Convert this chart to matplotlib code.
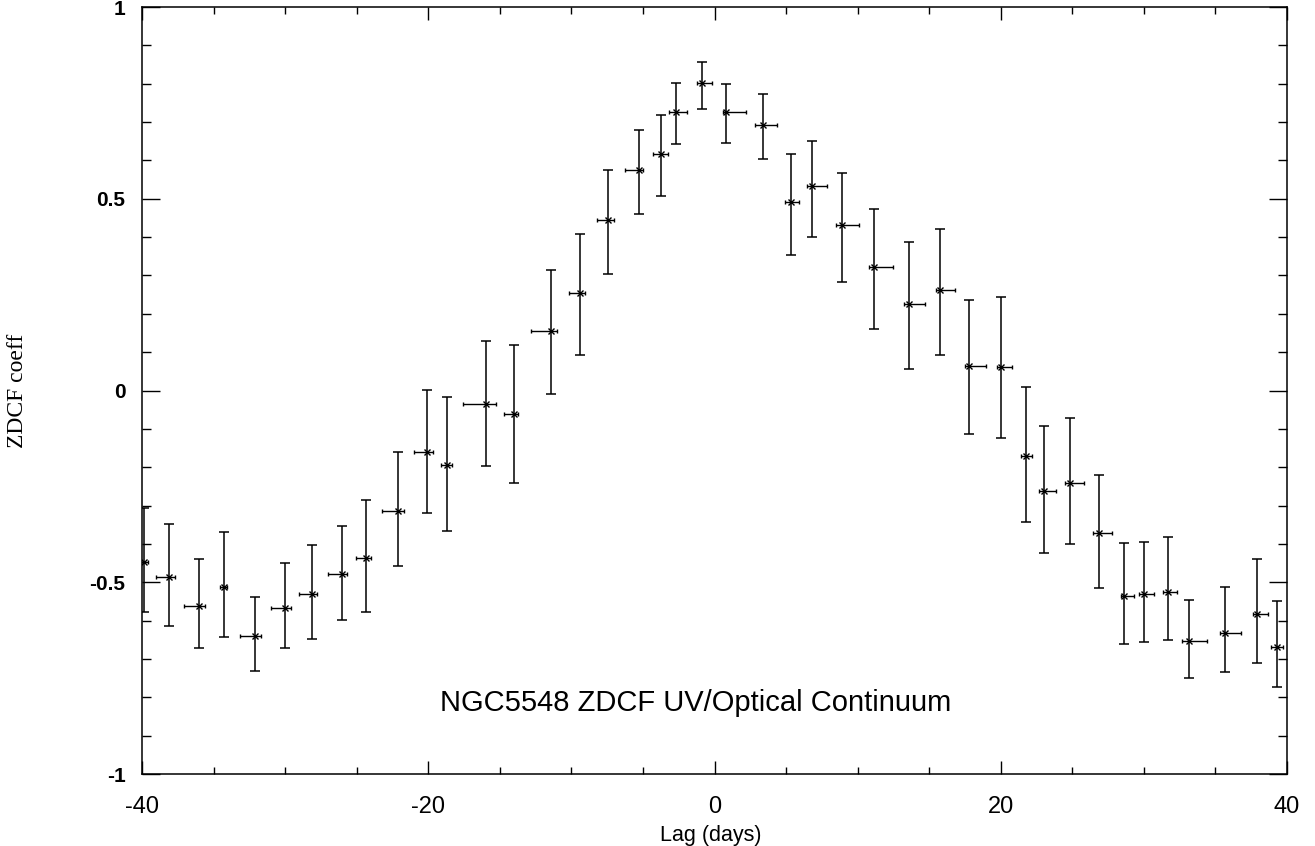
import numpy as np
import matplotlib
matplotlib.use("Agg")
import matplotlib.pyplot as plt
from matplotlib.ticker import MultipleLocator

# ZDCF points: lag (days), coefficient, bar ends
lag = [-39.85, -38.11, -36.01, -34.31, -32.14, -30.05, -28.14, -26.02, -24.38, -22.10,
       -20.08, -18.68, -15.95, -14.04, -11.45, -9.40, -7.42, -5.30, -3.72, -2.69,
       -0.89, 0.80, 3.37, 5.35, 6.84, 8.89, 11.15, 13.62, 15.74, 17.81,
       20.05, 21.78, 23.01, 24.85, 26.86, 28.63, 30.05, 31.68, 33.17, 35.71,
       37.90, 39.30]
lag_lo = [1.00, 0.93, 1.05, 0.26, 1.03, 0.98, 0.93, 1.02, 0.70, 1.12,
          0.95, 0.44, 1.65, 0.70, 1.40, 0.79, 0.79, 0.96, 0.56, 0.49,
          0.35, 0.23, 0.54, 0.42, 0.35, 0.40, 0.35, 0.37, 0.26, 0.30,
          0.30, 0.33, 0.35, 0.37, 0.40, 0.23, 0.35, 0.31, 0.47, 0.35,
          0.24, 0.40]
lag_hi = [0.28, 0.40, 0.42, 0.25, 0.46, 0.46, 0.33, 0.35, 0.35, 0.38,
          0.42, 0.31, 0.68, 0.30, 0.46, 0.37, 0.38, 0.28, 0.45, 0.80,
          0.74, 1.38, 1.02, 0.58, 1.01, 1.19, 1.31, 1.10, 1.05, 1.15,
          0.77, 0.42, 0.84, 1.00, 0.95, 0.72, 0.70, 0.67, 1.28, 1.10,
          0.81, 0.46]
zdcf = [-0.447, -0.487, -0.562, -0.512, -0.639, -0.567, -0.531, -0.479, -0.438, -0.313,
        -0.161, -0.195, -0.035, -0.062, 0.154, 0.255, 0.445, 0.575, 0.616, 0.726,
        0.801, 0.727, 0.693, 0.492, 0.532, 0.431, 0.322, 0.225, 0.262, 0.063,
        0.061, -0.171, -0.261, -0.240, -0.372, -0.537, -0.531, -0.525, -0.653, -0.632,
        -0.584, -0.669]
zdcf_top = [-0.306, -0.347, -0.439, -0.370, -0.538, -0.451, -0.404, -0.353, -0.286, -0.161,
            0.001, -0.018, 0.128, 0.119, 0.313, 0.409, 0.575, 0.679, 0.718, 0.801,
            0.857, 0.799, 0.774, 0.617, 0.651, 0.566, 0.474, 0.386, 0.422, 0.236,
            0.243, 0.008, -0.093, -0.072, -0.220, -0.397, -0.396, -0.383, -0.545, -0.513,
            -0.440, -0.550]
zdcf_bot = [-0.578, -0.615, -0.672, -0.642, -0.732, -0.672, -0.647, -0.598, -0.577, -0.458,
            -0.319, -0.366, -0.198, -0.240, -0.009, 0.093, 0.305, 0.459, 0.506, 0.642,
            0.733, 0.646, 0.603, 0.354, 0.401, 0.283, 0.161, 0.055, 0.092, -0.113,
            -0.123, -0.344, -0.423, -0.401, -0.516, -0.662, -0.655, -0.651, -0.749, -0.735,
            -0.711, -0.772]

title_text = "NGC5548 ZDCF UV/Optical Continuum"

plt.rcParams['font.family'] = ['Liberation Sans', 'DejaVu Sans']
plt.rcParams['axes.unicode_minus'] = False

x = np.array(lag)
y = np.array(zdcf)
yerr = [y - np.array(zdcf_bot), np.array(zdcf_top) - y]
xerr = [np.array(lag_lo), np.array(lag_hi)]

fig = plt.figure(figsize=(13.15, 8.46), dpi=100)
ax = fig.add_axes([0.1082, 0.0851, 0.8703, 0.9066])

# vertical bars with wide caps, horizontal bars with small caps
ax.errorbar(x, y, yerr=yerr, fmt='none', ecolor='black', elinewidth=1.1,
            capsize=3.8, capthick=1.1)
ax.errorbar(x, y, xerr=xerr, fmt='x', color='black', ms=4.5, mew=1.0,
            ecolor='black', elinewidth=1.0, capsize=1.6, capthick=1.0)

ax.set_xlim(-40, 40)
ax.set_ylim(-1, 1)
ax.xaxis.set_major_locator(MultipleLocator(20))
ax.xaxis.set_minor_locator(MultipleLocator(5))
ax.yaxis.set_major_locator(MultipleLocator(0.5))
ax.yaxis.set_minor_locator(MultipleLocator(0.1))
ax.set_yticks([-1, -0.5, 0, 0.5, 1])
ax.set_yticklabels(['-1', '-0.5', '0', '0.5', '1'])

ax.tick_params(axis='x', which='both', direction='in', top=True, bottom=True,
               width=1.0, labelsize=17, pad=16)
ax.tick_params(axis='x', which='major', length=9.5)
ax.tick_params(axis='x', which='minor', length=5)
ax.tick_params(axis='y', which='both', direction='in', left=True, right=True,
               width=1.0, labelsize=15, pad=12)
ax.tick_params(axis='y', which='major', length=13)
ax.tick_params(axis='y', which='minor', length=6.5)
for lbl in ax.get_yticklabels():
    lbl.set_fontweight('bold')

for s in ax.spines.values():
    s.set_linewidth(1.1)

ax.set_xlabel("Lag (days)", fontsize=15.5)
ax.xaxis.set_label_coords(0.4971, -0.066)
ax.set_ylabel("ZDCF coeff", fontsize=17, family=['Liberation Serif', 'DejaVu Serif'])
ax.yaxis.set_label_coords(-0.1, 0.5)

ax.text(0.4838, 0.0926, title_text, transform=ax.transAxes, ha='center',
        va='center', fontsize=21)

fig.savefig("out.png", dpi=100)
